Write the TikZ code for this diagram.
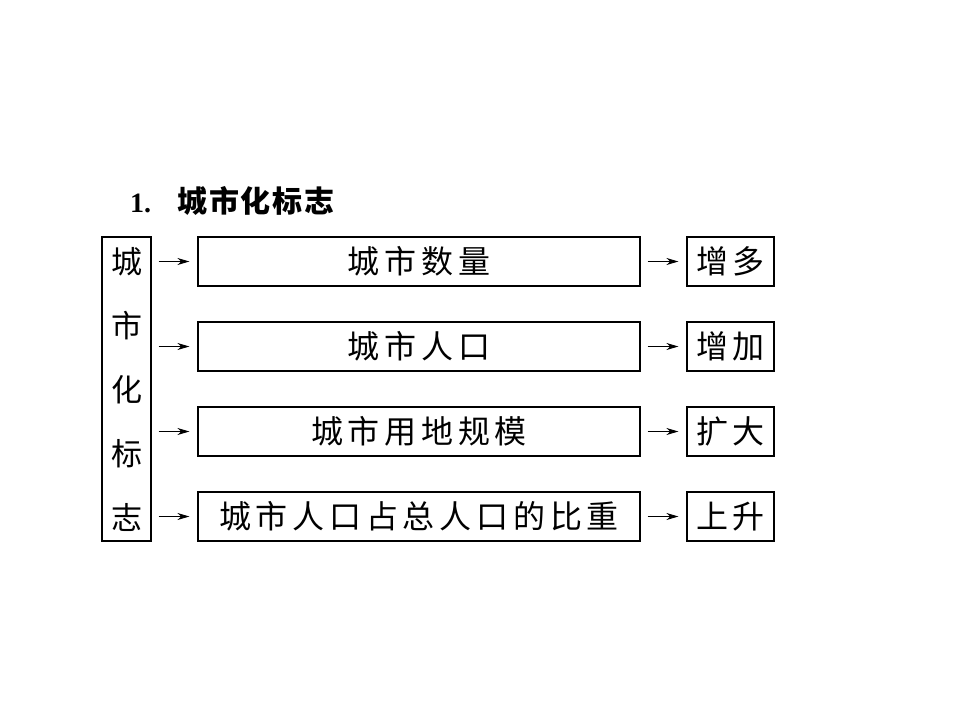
\documentclass[tikz,border=0pt]{standalone}
\usepackage{fontspec}
\setmainfont{Liberation Serif}
\newfontfamily\cjk[LetterSpace=15]{Noto Sans CJK SC}
\newfontfamily\cjktitle[LetterSpace=6]{Noto Sans CJK SC}
\usetikzlibrary{arrows.meta,positioning}

\begin{document}
\begin{tikzpicture}[
    x=1pt, y=-1pt,
    box/.style={rectangle, draw=black, line width=1.2pt, minimum height=49pt, inner sep=0pt,
                font=\fontsize{32}{32}\selectfont\cjk},
    arrow/.style={-{Stealth[length=12pt,width=7pt]}, line width=0.9pt, shorten <=7pt, shorten >=8pt}
]
    \useasboundingbox (0,0) rectangle (960,720);

    % title
    \node[anchor=west, inner sep=0pt] (title) at (130,201)
        {\fontsize{28}{28}\selectfont\textbf{1.}\hspace{26pt}\fontsize{30}{30}\selectfont\cjktitle\textbf{城市化标志}};

    % left column
    \node[box, minimum width=49pt, minimum height=304pt, align=center,
          font=\fontsize{31}{64}\selectfont\cjk] (bz) at (126.5,389)
        {城\\市\\化\\标\\志};

    % middle column
    \node[box, minimum width=442pt] (sl) at (419,261.5) {城市数量};
    \node[box, minimum width=442pt] (rk) at (419,346.5) {城市人口};
    \node[box, minimum width=442pt] (yd) at (419,431.5) {城市用地规模};
    \node[box, minimum width=442pt] (bz2) at (419,516.5) {城市人口占总人口的比重};

    % right column
    \node[box, minimum width=87pt] (r1) at (730.5,261.5) {增多};
    \node[box, minimum width=87pt] (r2) at (730.5,346.5) {增加};
    \node[box, minimum width=87pt] (r3) at (730.5,431.5) {扩大};
    \node[box, minimum width=87pt] (r4) at (730.5,516.5) {上升};

    \draw[arrow] (bz.east |- sl) -- (sl);
    \draw[arrow] (bz.east |- rk) -- (rk);
    \draw[arrow] (bz.east |- yd) -- (yd);
    \draw[arrow] (bz.east |- bz2) -- (bz2);

    \draw[arrow] (sl) -- (r1);
    \draw[arrow] (rk) -- (r2);
    \draw[arrow] (yd) -- (r3);
    \draw[arrow] (bz2) -- (r4);
\end{tikzpicture}
\end{document}
